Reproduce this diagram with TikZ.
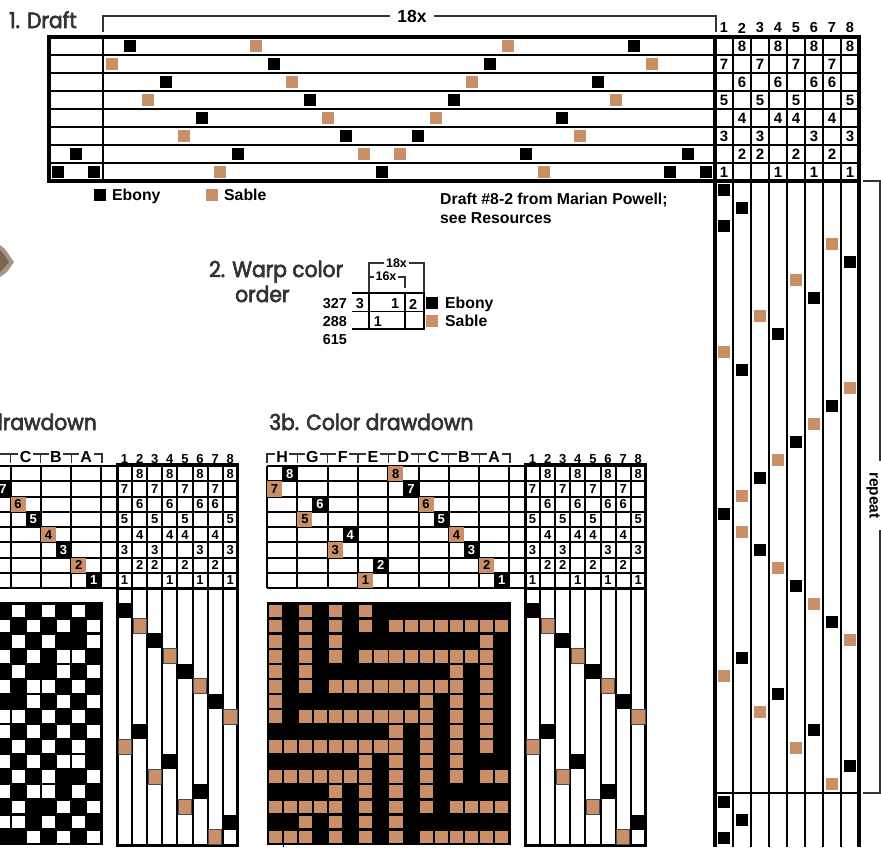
\documentclass[tikz,border=0pt]{standalone}
\usepackage{fontspec}
\setmainfont{Liberation Sans}
\newfontfamily\headfont[FakeStretch=0.92, FakeBold=3]{Poppins}
\definecolor{sableColor}{HTML}{C88F69}
\definecolor{headColor}{HTML}{333333}
\newcommand{\peg}[3]{\fill[#1] ({#2-6},{#3-6}) rectangle ++(12,12);}
\newcommand{\threadcell}[4]{
    \fill[#4] ({267+15.15*#2},{466+15.25*(8-#3)}) rectangle ++(15.15,15.25);
    \node[#4Num] (#1-thread-#2) at ({267+15.15*(#2+0.5)},{466+15.25*(8.5-#3)}) {#3};
}
% tag, style, x0, xstep, y0, ystep, digit, columns
\newcommand{\tierow}[8]{
    \foreach \cl in {#8}
        \node[#2] (#1-tie-#7-\cl) at ({#3+#4*(\cl-0.5)},{#5+#6*(8.5-#7)}) {#7};
}
\newcommand{\tieup}[6]{
    \tierow{#1}{#2}{#3}{#4}{#5}{#6}{8}{2,4,6,8}
    \tierow{#1}{#2}{#3}{#4}{#5}{#6}{7}{1,3,5,7}
    \tierow{#1}{#2}{#3}{#4}{#5}{#6}{6}{2,4,6,7}
    \tierow{#1}{#2}{#3}{#4}{#5}{#6}{5}{1,3,5,8}
    \tierow{#1}{#2}{#3}{#4}{#5}{#6}{4}{2,4,5,7}
    \tierow{#1}{#2}{#3}{#4}{#5}{#6}{3}{1,3,6,8}
    \tierow{#1}{#2}{#3}{#4}{#5}{#6}{2}{2,3,5,7}
    \tierow{#1}{#2}{#3}{#4}{#5}{#6}{1}{1,4,6,8}
}
\newcommand{\dotrow}[3]{
    \foreach \cl in {#3}
        \fill[#1] ({275.3+15.09*\cl-6.6},{611+15.07*#2-6.4}) rectangle ++(13.2,12.8);
}
\newcommand{\weavegrid}[1]{
    \foreach \rw in {1,...,7}
        \draw[gridline] (267,{466+15.25*\rw}) -- (645,{466+15.25*\rw});
    \draw[gridline] (267,466) -- (645,466);
    \draw[gridline] (267,588) -- (645,588);
    \foreach \gp in {0,...,8}
        \draw[gridline] ({267+30.3*\gp},466) -- ({267+30.3*\gp},588);
    \foreach \cl in {0,...,8}
        \draw[gridline] ({525+15.1*\cl},466) -- ({525+15.1*\cl},845);
    \draw[outline] (525,464.7) -- (525,845) -- (645.8,845) -- (645.8,464.7) -- (524,464.7);
    \draw[outline] (523.5,588) -- (647,588);
    \foreach \cl in {1,...,8}
        \node[smallNum] (#1-head-\cl) at ({525+15.1*(\cl-0.5)},459) {\cl};
    \tieup{#1}{smallNum}{525}{15.1}{466}{15.25}
    \foreach \tr/\cl in {1/1,3/3,5/5,7/7,9/2,11/4,13/6,15/8}
        \fill[black] ({525+15.1*(\cl-1)-1},{588+15.1*\tr}) rectangle ++(17.1,15.1);
    \foreach \tr/\cl in {2/2,4/4,6/6,8/8,10/1,12/3,14/5,16/7}
        \filldraw[fill=sableColor, draw=black!70, line width=0.6pt] ({525+15.1*(\cl-1)+1},{588+15.1*\tr}) rectangle ++(13.1,15.1);
    \fill[black] (267,601.7) rectangle (510.7,845);
}
\begin{document}
\begin{tikzpicture}[x=1pt,y=-1pt,
    gridline/.style={line width=2pt},
    outline/.style={line width=3pt},
    bracket/.style={line width=1.2pt, color=headColor},
    headTxt/.style={font=\headfont\fontsize{22}{24}\selectfont, color=headColor, inner sep=0pt},
    labelTxt/.style={font=\fontsize{15.8}{17}\bfseries\selectfont, inner sep=0pt},
    tieNum/.style={font=\fontsize{15}{17}\bfseries\selectfont, inner sep=0pt},
    bigNum/.style={font=\fontsize{14.4}{16}\bfseries\selectfont, inner sep=0pt},
    smallNum/.style={font=\fontsize{13}{15}\bfseries\selectfont, inner sep=0pt},
    ebony/.style={fill=black},
    sable/.style={fill=sableColor},
    ebonyNum/.style={smallNum, text=white},
    sableNum/.style={smallNum, text=black},
    letterTxt/.style={font=\fontsize{16}{18}\bfseries\selectfont, fill=white, inner ysep=0pt, inner xsep=1.5pt}]
    \useasboundingbox (0,0) rectangle (881,847);
    \fill[black!50!brown, opacity=0.55] (0,245) -- (5,249) -- (14,262) -- (7,272) -- (0,277) -- cycle;
    \fill[black!60!brown, opacity=0.5] (0,250) -- (3,253) -- (9,262) -- (4,268) -- (0,272) -- cycle;

    \node[headTxt, anchor=base west] (draftTitle) at (9,28) {1. Draft};
    \coordinate (repeatLeft) at (103,32);
    \coordinate (repeatRight) at (716,32);
    \draw[bracket] (repeatLeft) |- (716,16) -- (repeatRight);
    \node[font=\fontsize{17.5}{19}\bfseries\selectfont, fill=white, inner ysep=0pt, inner xsep=7pt] (draftTimes) at (412,16) {18x};
    \foreach \cl in {1,...,8}
        \node[font=\fontsize{14.5}{16}\bfseries\selectfont, inner sep=0pt] (head-\cl) at ({715+18*(\cl-0.5)},28) {\cl};
    \foreach \rw in {1,...,7}
        \draw[gridline] (49,{37+18*\rw}) -- (859,{37+18*\rw});
    \foreach \x in {103,733,751,769,787,805,823,841}
        \draw[line width=2.5pt] (\x,37) -- (\x,181);
    \foreach \x in {733,751,769,787,805,823,841}
        \draw[line width=2.5pt] (\x,181) -- (\x,847);
    \draw[line width=3.5pt] (49,37) rectangle (859,181);
    \draw[line width=3.5pt] (715,37) -- (715,847);
    \draw[line width=3.5pt] (859,181) -- (859,847);
    \draw[gridline] (715,793) -- (859,793);

    \foreach \k/\rw in {1/1,29/1,9/2,21/2,3/3,27/3,19/4,11/4,5/5,25/5,13/6,17/6,7/7,23/7,32/7,15/8,31/8,33/8}
        {\peg{black}{112+18*\k}{28+18*\rw}}
    \foreach \k/\rw in {8/1,22/1,0/2,30/2,10/3,20/3,2/4,28/4,12/5,18/5,4/6,26/6,14/7,16/7,6/8,24/8}
        {\peg{sableColor}{112+18*\k}{28+18*\rw}}
    \peg{black}{76}{154}
    \peg{black}{58}{172}
    \peg{black}{94}{172}
    \tieup{draft}{tieNum}{715}{18}{37}{18}
    \foreach \nn/\cl in {0/1,1/2,2/1,4/8,6/6,8/4,10/2,12/7,14/5,16/3,18/1,20/3,22/5,24/7,26/2,28/4,30/6,32/8,34/1,35/2,36/1}
        {\peg{black}{715+18*(\cl-0.5)}{190+18*\nn}}
    \foreach \nn/\cl in {3/7,5/5,7/3,9/1,11/8,13/6,15/4,17/2,19/2,21/4,23/6,25/8,27/1,29/3,31/5,33/7}
        {\peg{sableColor}{715+18*(\cl-0.5)}{190+18*\nn}}

    \coordinate (sideTop) at (863,181);
    \coordinate (sideBottom) at (863,793);
    \draw[bracket] (sideTop) -| (880,793) -- (sideBottom);
    \node[labelTxt, rotate=-90, fill=white, inner xsep=11pt, inner ysep=1pt, font=\fontsize{15.5}{17}\bfseries\selectfont] (repeatTxt) at (873,495.5) {repeat};

    \peg{black}{100}{195}
    \node[labelTxt, anchor=base west] (ebonyTxt) at (112,200.5) {Ebony};
    \peg{sableColor}{212}{195}
    \node[labelTxt, anchor=base west] (sableTxt) at (224,200.5) {Sable};
    \node[labelTxt, anchor=base west] (sourceOne) at (440,204) {Draft \#8-2 from Marian Powell;};
    \node[labelTxt, anchor=base west] (sourceTwo) at (440,223) {see Resources};

    \node[headTxt, anchor=base west] (warpTitle) at (209,277) {2. Warp color};
    \node[headTxt, anchor=base west] (warpTitleTwo) at (235,302) {order};
    \draw[gridline] (352,293) -- (424,293);
    \draw[line width=1.5pt] (352,311.5) -- (424,311.5);
    \draw[gridline] (352,329) -- (424,329);
    \foreach \x in {369,405,424}
        \draw[gridline] (\x,292) -- (\x,330);
    \draw[bracket] (369,292) |- (424,263) -- (424,292);
    \draw[bracket] (369,277) -- (405,277) -- (405,288);
    \node[smallNum, font=\fontsize{12.5}{14}\bfseries\selectfont, fill=white, inner xsep=2pt] (warpOuter) at (396.5,263) {18x};
    \node[smallNum, font=\fontsize{12.5}{14}\bfseries\selectfont, fill=white, inner xsep=1.5pt] (warpInner) at (386,276.5) {16x};
    \node[bigNum, anchor=base east] (warpEbony) at (347,308) {327};
    \node[bigNum, anchor=base east] (warpSable) at (347,326) {288};
    \node[bigNum, anchor=base east] (warpTotal) at (347,344) {615};
    \node[bigNum, anchor=base] (warpThree) at (360,308) {3};
    \node[bigNum, anchor=base] (warpOne) at (395,308) {1};
    \node[bigNum, anchor=base] (warpTwo) at (413,309.5) {2};
    \node[bigNum, anchor=base] (warpOneB) at (378,326) {1};
    \peg{black}{432}{302.5}
    \peg{sableColor}{432}{320.5}
    \node[labelTxt, anchor=base west] (warpEbonyTxt) at (445,308) {Ebony};
    \node[labelTxt, anchor=base west] (warpSableTxt) at (445,326) {Sable};

    \node[headTxt, anchor=base east] (weaveTitle) at (97,430) {drawdown};
    \begin{scope}[xshift=-408pt]
        \clip (408,440) rectangle (700,850);
        \weavegrid{weave}
        \foreach \cl/\dg/\kind in {9/7/ebony,10/6/sable,11/5/ebony,12/4/sable,13/3/ebony,14/2/sable,15/1/ebony}
            {\threadcell{weave}{\cl}{\dg}{\kind}}
        \draw[bracket] (389,454) -- (510,454) -- (510,463);
        \foreach \gp in {5,6,7,8}
            \draw[bracket] ({267+30.3*\gp},454) -- ({267+30.3*\gp},463);
        \foreach \gp/\ltr in {5/C,6/B,7/A}
            \node[letterTxt] (weave-\ltr) at ({267+30.3*(\gp+0.5)},456.5) {\ltr};
        \dotrow{white}{0}{10,12,14}
        \dotrow{white}{1}{9,11,13,15}
        \dotrow{white}{2}{10,12,15}
        \dotrow{white}{3}{9,11,13,14}
        \dotrow{white}{4}{10,13,15}
        \dotrow{white}{5}{9,11,12,14}
        \dotrow{white}{6}{11,13,15}
        \dotrow{white}{7}{9,10,12,14}
        \dotrow{white}{8}{9,11,13,15}
        \dotrow{white}{9}{10,12,14}
        \dotrow{white}{10}{9,11,13,14}
        \dotrow{white}{11}{10,12,15}
        \dotrow{white}{12}{9,11,12,14}
        \dotrow{white}{13}{10,13,15}
        \dotrow{white}{14}{9,10,12,14}
        \dotrow{white}{15}{11,13,15}
    \end{scope}

    \node[headTxt, anchor=base west] (colorTitle) at (269,430) {3b. Color drawdown};
    \weavegrid{color}
    \foreach \cl/\dg/\kind in {1/8/ebony,8/8/sable,0/7/sable,9/7/ebony,3/6/ebony,10/6/sable,2/5/sable,11/5/ebony,5/4/ebony,12/4/sable,4/3/sable,13/3/ebony,7/2/ebony,14/2/sable,6/1/sable,15/1/ebony}
        {\threadcell{color}{\cl}{\dg}{\kind}}
    \draw[bracket] (267,463) -- (267,454) -- (510,454) -- (510,463);
    \foreach \gp in {1,...,7}
        \draw[bracket] ({267+30.3*\gp},454) -- ({267+30.3*\gp},463);
    \foreach \gp/\ltr in {0/H,1/G,2/F,3/E,4/D,5/C,6/B,7/A}
        \node[letterTxt] (color-\ltr) at ({267+30.3*(\gp+0.5)},456.5) {\ltr};
    \dotrow{sableColor}{0}{0,2,4,6}
    \dotrow{sableColor}{1}{0,2,4,6,8,9,10,11,12,13,14,15}
    \dotrow{sableColor}{2}{0,2,4,14}
    \dotrow{sableColor}{3}{0,2,4,6,7,8,9,10,11,12,13,14}
    \dotrow{sableColor}{4}{0,2,12,14}
    \dotrow{sableColor}{5}{0,2,4,5,6,7,8,9,10,11,12,14}
    \dotrow{sableColor}{6}{0,10,12,14}
    \dotrow{sableColor}{7}{0,2,3,4,5,6,7,8,9,10,12,14}
    \dotrow{sableColor}{8}{8,10,12,14}
    \dotrow{sableColor}{9}{0,1,2,3,4,5,6,7,8,10,12,14}
    \dotrow{sableColor}{10}{6,8,10,12}
    \dotrow{sableColor}{11}{0,1,2,3,4,5,6,8,10,12,14,15}
    \dotrow{sableColor}{12}{4,6,8,10}
    \dotrow{sableColor}{13}{0,1,2,3,4,6,8,10,12,13,14,15}
    \dotrow{sableColor}{14}{2,4,6,8}
    \dotrow{sableColor}{15}{0,1,2,4,6,8,10,11,12,13,14,15}
    \draw[line width=1pt] (283,845) -- (283,847);
\end{tikzpicture}
\end{document}
